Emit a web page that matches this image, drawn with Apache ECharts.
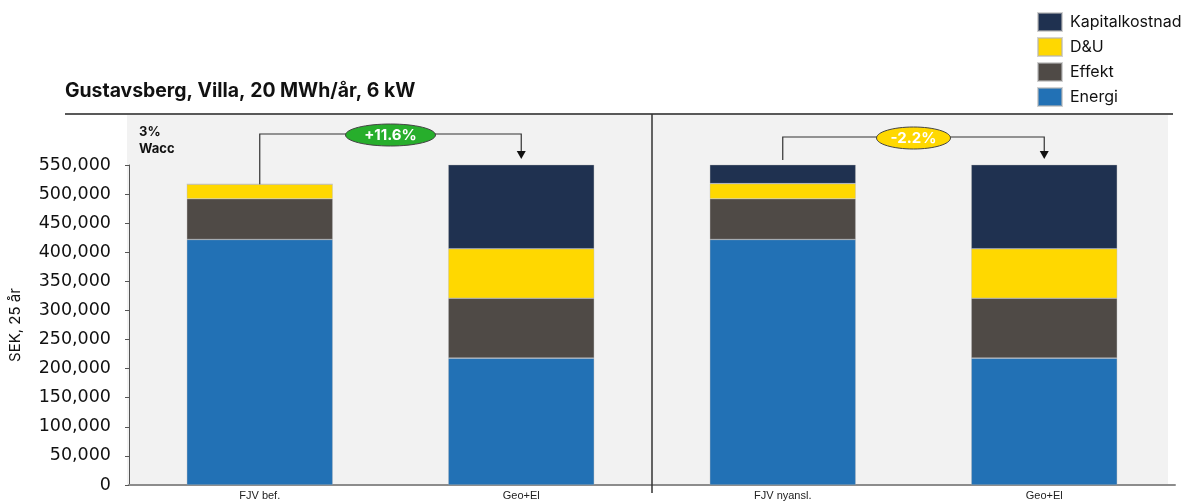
<!DOCTYPE html>
<html><head><meta charset="utf-8">
<script src="https://cdn.jsdelivr.net/npm/echarts@6/dist/echarts.min.js"></script>
<style>html,body{margin:0;padding:0;background:#fff}#c{width:1197px;height:504px}</style>
</head><body><div id="c"></div>
<script>
// ---- data ----
const categories = ['FJV bef.', 'Geo+El', 'FJV nyansl.', 'Geo+El'];
const energi  = [422000, 218000, 422000, 218000];
const effekt  = [70000, 103000, 70000, 103000];
const du      = [25000, 85000, 26000, 85000];
const kapital = [0, 170000, 71000, 170000];
const seriesNames = ['Energi', 'Effekt', 'D&U', 'Kapitalkostnad'];
const legendOrder = ['Kapitalkostnad', 'D&U', 'Effekt', 'Energi'];
const yMax = 550000, yStep = 50000;
const deltas = [{from: 0, to: 1, label: '+11.6%'}, {from: 2, to: 3, label: '-2.2%'}];
const titleText = 'Gustavsberg, Villa, 20 MWh/år, 6 kW';
const waccText = '3%\nWacc';
const yName = 'SEK, 25 år';

const colors = {Energi: '#2271b5', Effekt: '#4f4a46', 'D&U': '#ffd800', Kapitalkostnad: '#1f3150'};
const values = {Energi: energi, Effekt: effekt, 'D&U': du, Kapitalkostnad: kapital};

function fmt(v) { return String(v).replace(/\B(?=(\d{3})+(?!\d))/g, ','); }

const chart = echarts.init(document.getElementById('c'));
const option = {
  animation: false,
  title: {text: titleText, left: 60, top: 77,
    textStyle: {fontFamily: 'Inter', fontWeight: 'bold', fontSize: 19.4, color: '#111'}},
  legend: {data: legendOrder, orient: 'vertical', left: 1037, top: 12, padding: 0, itemWidth: 24, itemHeight: 18,
    itemGap: 5, icon: 'rect', textStyle: {fontFamily: 'Inter', fontSize: 16, color: '#111', padding: [0, 0, 0, 3]}},
  grid: {left: 127, right: 22, top: 165, bottom: 19, containLabel: false},
  xAxis: {type: 'category', data: categories,
    axisLine: {lineStyle: {color: '#8c8c8c', width: 2}}, axisTick: {show: false},
    axisLabel: {margin: 5, fontFamily: 'Liberation Sans', fontSize: 11, color: '#222'}},
  yAxis: {type: 'value', min: 0, max: yMax, interval: yStep,
    name: yName, nameLocation: 'middle', nameGap: 106, nameRotate: 90,
    nameTextStyle: {fontFamily: 'Inter', fontSize: 15, color: '#111'},
    axisLine: {show: true, lineStyle: {color: '#555', width: 1}},
    axisTick: {show: true, length: 4, lineStyle: {color: '#555'}},
    splitLine: {show: false},
    axisLabel: {margin: 18, fontFamily: 'DejaVu Sans', fontSize: 17.5, color: '#111', formatter: fmt}},
  series: seriesNames.map(n => ({
    name: n, type: 'bar', stack: 'tot', barWidth: 146, clip: true,
    itemStyle: {color: colors[n], borderColor: 'rgba(180,180,180,0.6)', borderWidth: 0.6},
    data: values[n]
  }))
};
chart.setOption(option);

const px = (i, v) => chart.convertToPixel({gridIndex: 0}, [i, v]);
const total = i => energi[i] + effekt[i] + du[i] + kapital[i];
const gTop = px(0, yMax)[1], gBot = px(0, 0)[1];
const gLeft = 127;
const els = [];
els.push({type: 'rect', z: -5, silent: true, shape: {x: gLeft, y: 115, width: 1168 - gLeft, height: gBot - 115},
  style: {fill: '#f2f2f2'}});
els.push({type: 'line', z: 5, shape: {x1: 65, y1: 114, x2: 1173, y2: 114}, style: {stroke: '#222', lineWidth: 1.5}});
const divX = (px(1, 0)[0] + px(2, 0)[0]) / 2;
els.push({type: 'line', z: 5, shape: {x1: divX, y1: 114, x2: divX, y2: gBot + 8}, style: {stroke: '#333', lineWidth: 1.5}});
els.push({type: 'text', z: 5, x: 139, y: 124, style: {text: waccText, font: 'bold 13px Inter', fill: '#111', lineHeight: 17}});

const ellColors = ['#27ae2c', '#ffd800'];
const ellW = [45, 37];
deltas.forEach((d, k) => {
  const a = px(d.from, Math.min(total(d.from), yMax));
  const b = px(d.to, Math.min(total(d.to), yMax));
  const yLine = gTop - (k === 0 ? 31 : 28);
  const startY = total(d.from) >= yMax ? a[1] - 5 : a[1];
  const tip = b[1] - 6;
  els.push({type: 'polyline', z: 5, shape: {points: [[a[0], startY], [a[0], yLine], [b[0], yLine], [b[0], tip - 7]]},
    style: {stroke: '#333', lineWidth: 1.2, fill: null}});
  els.push({type: 'polygon', z: 5, shape: {points: [[b[0] - 4.5, tip - 8], [b[0] + 4.5, tip - 8], [b[0], tip]]},
    style: {fill: '#111'}});
  const cx = (a[0] + b[0]) / 2;
  els.push({type: 'ellipse', z: 6, shape: {cx: cx, cy: yLine + 1, rx: ellW[k], ry: 11},
    style: {fill: ellColors[k], stroke: '#444', lineWidth: 1}});
  els.push({type: 'text', z: 7, x: cx, y: yLine + 1, style: {text: d.label, font: 'bold 15px Inter', fill: '#fff',
    textAlign: 'center', textVerticalAlign: 'middle'}});
});
chart.setOption({graphic: {elements: els}});
</script></body></html>
